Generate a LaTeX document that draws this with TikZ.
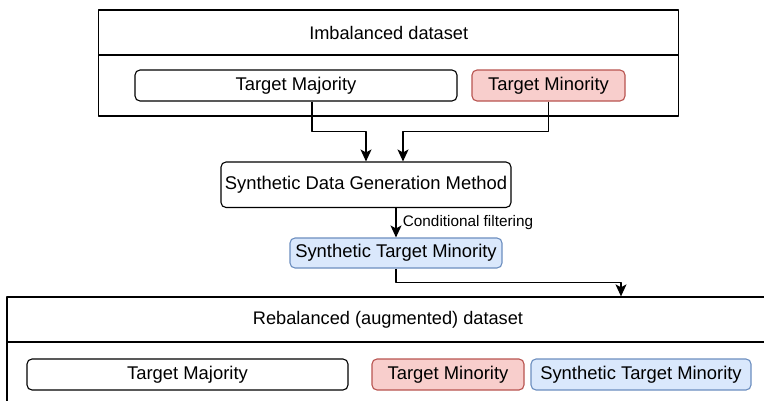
\documentclass[tikz,border=0pt]{standalone}
\usepackage{fontspec}
\setmainfont{Liberation Sans}
\usetikzlibrary{arrows.meta,calc}

\definecolor{minfill}{HTML}{F8CECC}
\definecolor{minline}{HTML}{B85450}
\definecolor{synfill}{HTML}{DAE8FC}
\definecolor{synline}{HTML}{6C8EBF}

\tikzset{
  container/.style={draw, line width=1.3pt, inner sep=0pt},
  box/.style={draw, line width=1.1pt, rounded corners=5pt, inner sep=0pt,
              font=\fontsize{18.4}{21}\selectfont},
  minbox/.style={box, fill=minfill, draw=minline},
  synbox/.style={box, fill=synfill, draw=synline},
  title/.style={font=\fontsize{18.2}{21}\selectfont},
  arr/.style={line width=1.2pt, -{Stealth[length=12pt,width=11pt,inset=3pt]}},
}

\begin{document}
\begin{tikzpicture}[x=1pt, y=-1pt, line join=round]

%-----------------------
% 画布：与参考图同尺寸（像素坐标，y 向下）
%-----------------------
\useasboundingbox (0,0) rectangle (764,400);
\clip (0,0) rectangle (764,400);

%-----------------------
% 上方容器：不平衡数据集
%-----------------------
\node[container, minimum width=580pt, minimum height=106pt] (top) at (388.7,63) {};
\draw[line width=1.3pt] (top.west |- 0,55) -- (top.east |- 0,55);  % 标题分隔线
\node[title] (toptitle) at (388.7,32.5) {Imbalanced dataset};

\node[box, minimum width=322pt, minimum height=31pt] (maj) at (296,85.5) {Target Majority};
\node[minbox, minimum width=153pt, minimum height=31pt] (min) at (548.5,85.5) {Target Minority};

%-----------------------
% 生成方法与合成少数类
%-----------------------
\node[box, minimum width=290pt, minimum height=45.5pt] (gen) at (366,184.75)
  {Synthetic Data Generation Method};
\node[synbox, minimum width=212pt, minimum height=30pt] (syn) at (396,253)
  {Synthetic Target Minority};

%-----------------------
% 下方容器：再平衡（增广）数据集（右侧与底部被裁掉）
%-----------------------
\node[container, minimum width=762pt, minimum height=130pt] (bot) at (388,362) {};
\draw[line width=1.3pt] (bot.west |- 0,342) -- (bot.east |- 0,342);  % 标题分隔线
\node[title] (bottitle) at (388,319.5) {Rebalanced (augmented) dataset};

\node[box, minimum width=321pt, minimum height=31pt] (majb) at (187.5,374.5) {Target Majority};
\node[minbox, minimum width=152pt, minimum height=31pt] (minb) at (448,374.5) {Target Minority};
\node[synbox, minimum width=220pt, minimum height=31pt] (synb) at (641,374.5) {Synthetic Target Minority};

%-----------------------
% 连线：正交折线，折点取上下两框的中点高度
%-----------------------
\coordinate (majout) at ([xshift=16pt]maj.south);
\coordinate (genin1) at (gen.north);
\coordinate (genin2) at ([xshift=37pt]gen.north);
\coordinate (botin)  at (621,0 |- bot.north);

\draw[arr] (majout) -- ($(majout)!0.5!(majout |- genin1)$) -| (genin1);
\draw[arr] (min.south) -- ($(min.south)!0.5!(min.south |- genin2)$) -| (genin2);

\draw[arr] (syn.north |- gen.south) -- (syn.north)
  node[midway, right=3pt, font=\fontsize{15.3}{18}\selectfont] {Conditional filtering};

\draw[arr] (syn.south) -- ($(syn.south)!0.5!(syn.south |- botin)$) -| (botin);

\end{tikzpicture}
\end{document}
